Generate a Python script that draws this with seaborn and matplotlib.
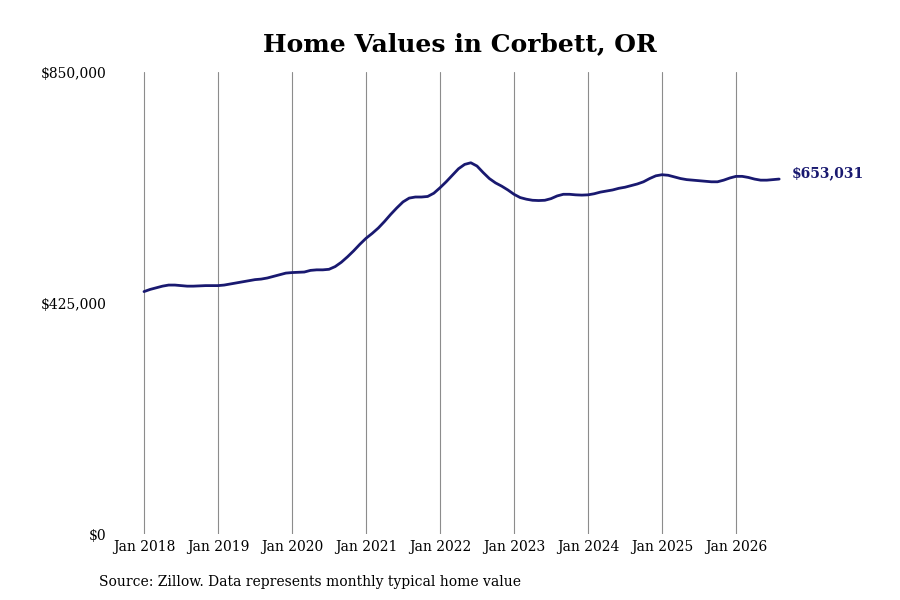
import seaborn as sns
import matplotlib.pyplot as plt
import pandas as pd

# monthly typical home value, Jan 2018 onward
values_2018 = [446000, 450000, 453000, 456000, 458000, 458000, 457000, 456000, 456000, 456500, 457000, 457000]
values_2019 = [457000, 458000, 460000, 462000, 464000, 466000, 468000, 469000, 471000, 474000, 477000, 480000]
values_2020 = [481000, 481500, 482000, 485000, 486000, 486000, 487000, 492000, 500000, 510000, 521000, 533000]
values_2021 = [544000, 553000, 563000, 575000, 588000, 600000, 611000, 618000, 620000, 620000, 621000, 627000]
values_2022 = [637000, 648000, 660000, 672000, 680000, 683000, 677000, 665000, 654000, 646000, 640000, 633000]
values_2023 = [625000, 619000, 616000, 614000, 613500, 614000, 617000, 622000, 625000, 625000, 624000, 623500]
values_2024 = [624000, 626000, 629000, 631000, 633000, 636000, 638000, 641000, 644000, 648000, 654000, 659000]
values_2025 = [661000, 660000, 657000, 654000, 652000, 651000, 650000, 649000, 648000, 648000, 651000, 655000]
values_2026 = [658000, 658000, 656000, 653000, 651000, 651000, 652000, 653031]

years = [2018, 2019, 2020, 2021, 2022, 2023, 2024, 2025, 2026]
tick_labels = [f"Jan {y}" for y in years]
y_ticks = [0, 425000, 850000]

values = (values_2018 + values_2019 + values_2020 + values_2021 + values_2022
          + values_2023 + values_2024 + values_2025 + values_2026)
df = pd.DataFrame({"month": range(len(values)), "value": values})

sns.set_style("white")
plt.rcParams["font.family"] = ["DejaVu Serif"]
plt.rcParams["text.color"] = "black"
plt.rcParams["xtick.color"] = "black"
plt.rcParams["ytick.color"] = "black"

navy = "#191970"

fig = plt.figure(figsize=(9, 6), dpi=100)
ax = fig.add_axes([112 / 900, 1 - 534 / 600, (808 - 112) / 900, (534 - 72) / 600])

sns.lineplot(data=df, x="month", y="value", ax=ax, color=navy, linewidth=2)

ax.set_xlim(-32 / 6.1667, (808 - 144) / 6.1667)
ax.set_ylim(0, 850000)
ax.set_xticks([12 * i for i in range(len(years))])
ax.set_xticklabels(tick_labels, fontsize=10)
ax.set_yticks(y_ticks)
ax.set_yticklabels([f"${v:,.0f}" for v in y_ticks], fontsize=10)
ax.tick_params(axis="both", length=0, pad=4)
ax.xaxis.grid(True, color="#8c8c8c", linewidth=0.8)
ax.yaxis.grid(False)
for s in ax.spines.values():
    s.set_visible(False)
ax.set_xlabel("")
ax.set_ylabel("")

last = df.iloc[-1]
ax.annotate(f"${last['value']:,.0f}", xy=(last["month"], last["value"]),
            xytext=(9, 4.5), textcoords="offset points", va="center", ha="left",
            fontsize=10, fontweight="bold", color=navy)

ax.set_title("Home Values in Corbett, OR", fontsize=18, fontweight="bold", pad=15,
             color="black")

fig.text(99 / 900, 1 - 582 / 600, "Source: Zillow. Data represents monthly typical home value",
         fontsize=10, va="center", ha="left", color="black")

fig.savefig("out.png", dpi=100)
